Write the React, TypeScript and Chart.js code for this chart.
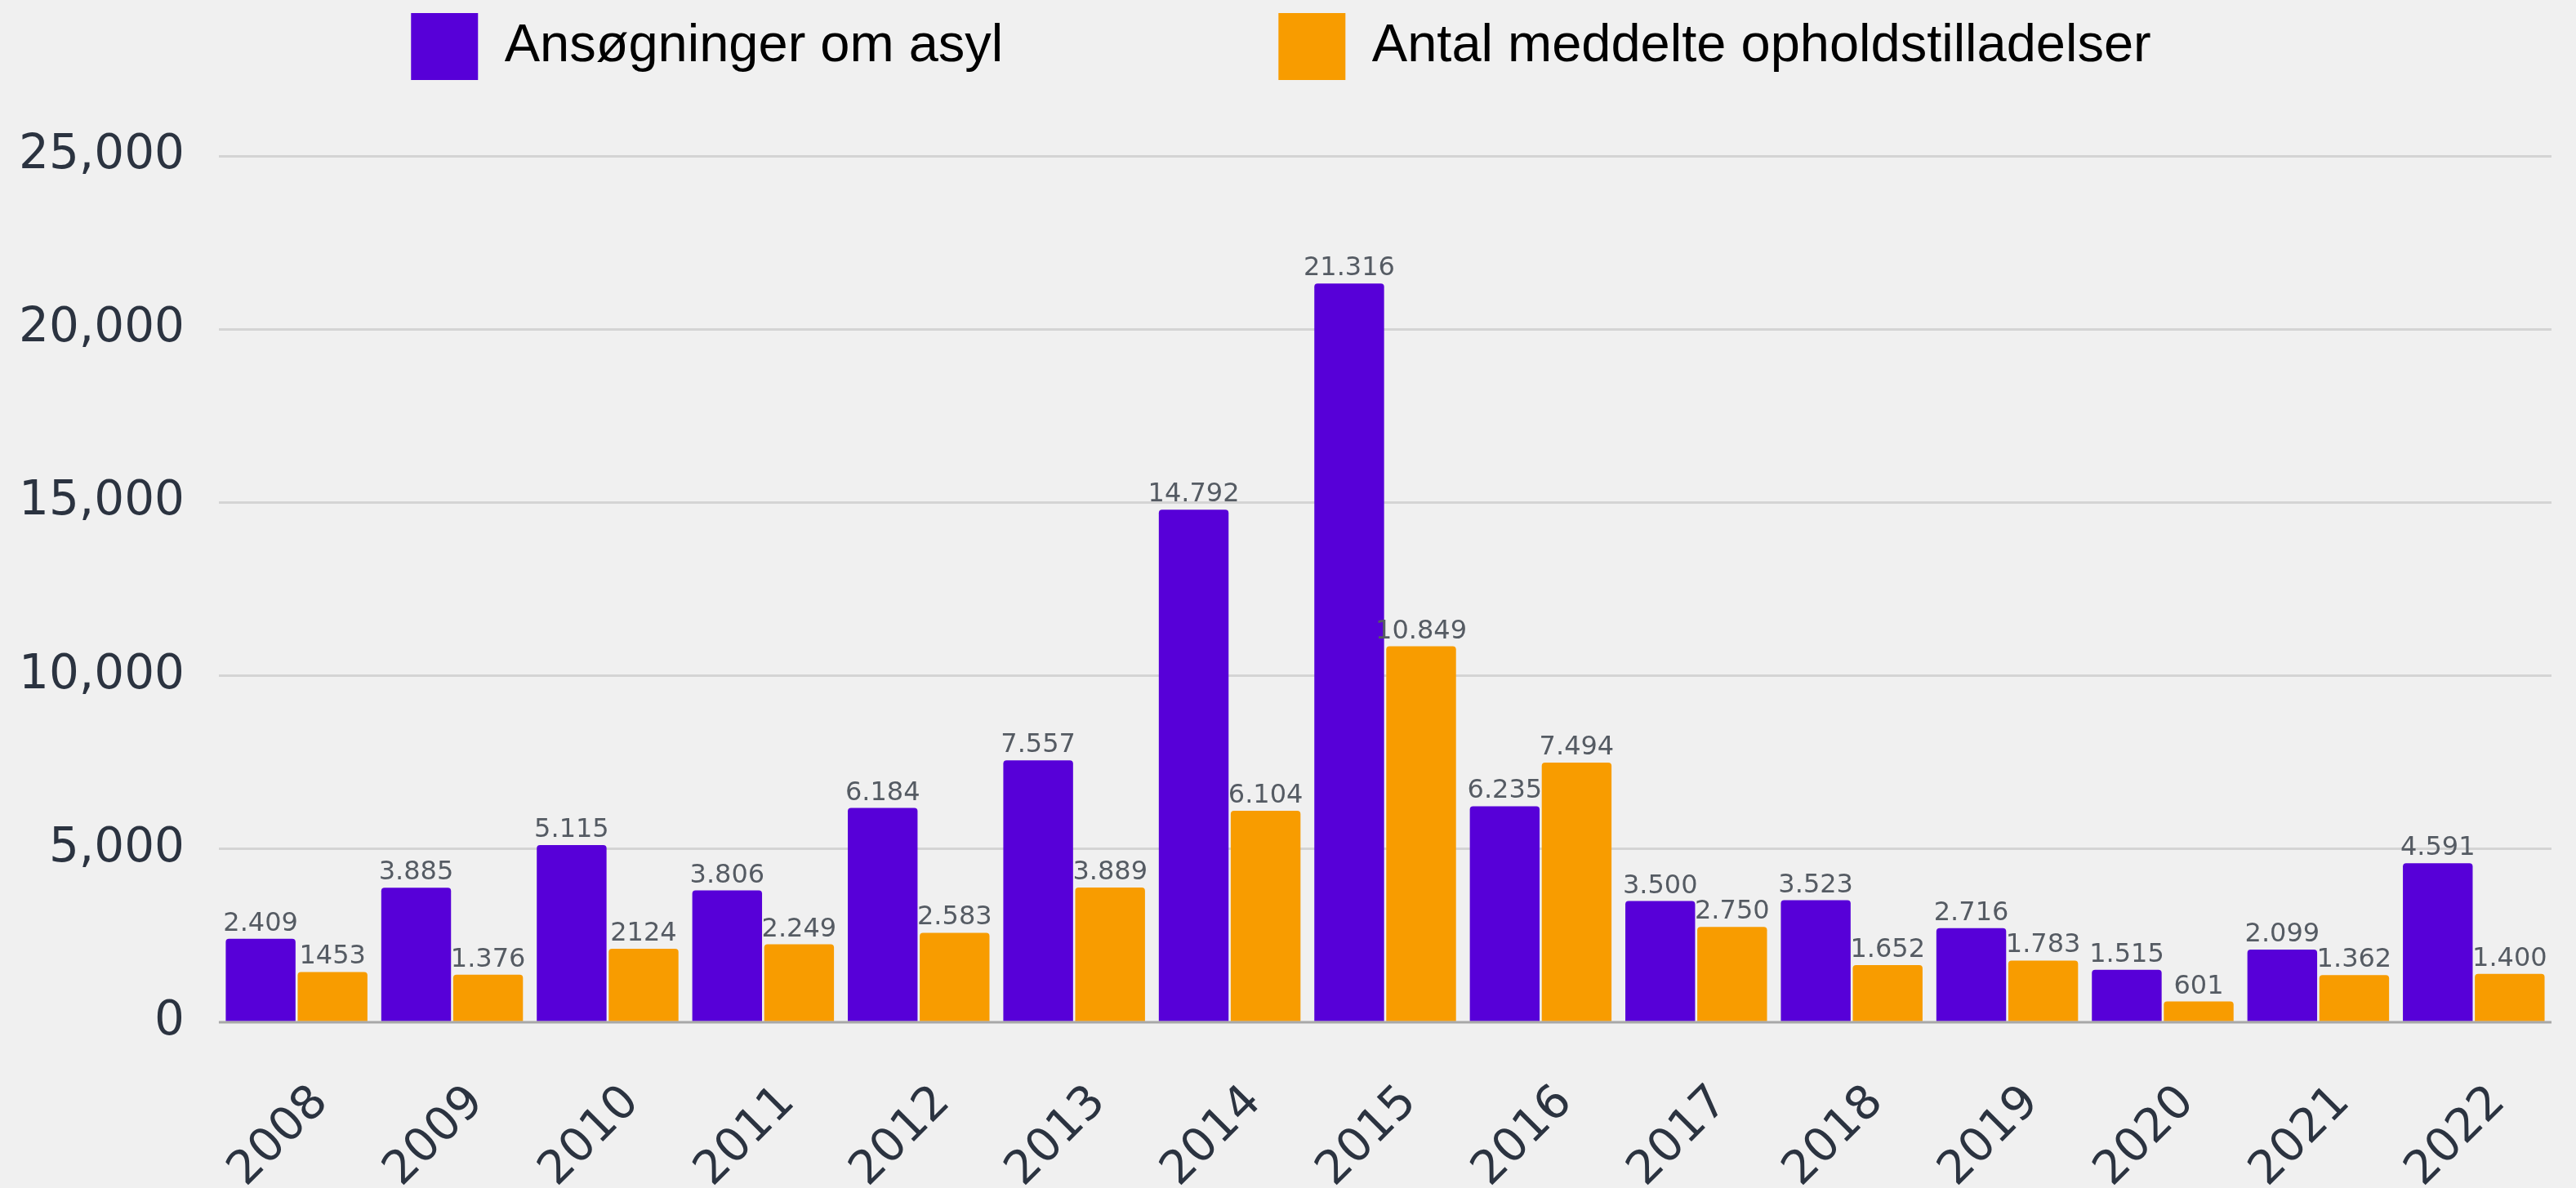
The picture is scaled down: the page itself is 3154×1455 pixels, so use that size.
import React, { useEffect, useRef } from "react";
import { Chart, registerables } from "chart.js";

Chart.register(...registerables);

const years = ["2008", "2009", "2010", "2011", "2012", "2013", "2014", "2015", "2016", "2017", "2018", "2019", "2020", "2021", "2022"];
const seriesNames = ["Ansøgninger om asyl", "Antal meddelte opholdstilladelser"];
const asylumApplications = [2409, 3885, 5115, 3806, 6184, 7557, 14792, 21316, 6235, 3500, 3523, 2716, 1515, 2099, 4591];
const asylumLabels = ["2.409", "3.885", "5.115", "3.806", "6.184", "7.557", "14.792", "21.316", "6.235", "3.500", "3.523", "2.716", "1.515", "2.099", "4.591"];
const permitsGranted = [1453, 1376, 2124, 2249, 2583, 3889, 6104, 10849, 7494, 2750, 1652, 1783, 601, 1362, 1400];
const permitLabels = ["1453", "1.376", "2124", "2.249", "2.583", "3.889", "6.104", "10.849", "7.494", "2.750", "1.652", "1.783", "601", "1.362", "1.400"];
const yTicks = [0, 5000, 10000, 15000, 20000, 25000];

const PURPLE = "#5700d8";
const ORANGE = "#f89c00";
const BG = "#f0f0f0";
const LEGEND_PAD = 337;

const backgroundPlugin = {
  id: "bgFill",
  beforeDraw(chart: any) {
    const { ctx, width, height } = chart;
    ctx.save();
    ctx.fillStyle = BG;
    ctx.fillRect(0, 0, width, height);
    ctx.restore();
  },
};

// Moves the legend row to the top edge and nudges it horizontally.
const legendPlacePlugin = {
  id: "legendPlace",
  afterLayout(chart: any) {
    const lg = chart.legend;
    if (!lg) return;
    const rowTop = lg.top + LEGEND_PAD;
    const dy = rowTop - 16;
    lg.top -= dy;
    lg.bottom -= dy;
    lg.left += 16;
    lg.right += 16;
  },
};

const valueLabelPlugin = {
  id: "valueLabels",
  afterDatasetsDraw(chart: any) {
    const { ctx, chartArea } = chart;
    const yScale = chart.scales.y;
    const y0 = yScale.getPixelForValue(0);
    ctx.save();
    ctx.strokeStyle = "rgba(120,120,120,0.6)";
    ctx.lineWidth = 3;
    ctx.beginPath();
    ctx.moveTo(chartArea.left, y0);
    ctx.lineTo(chartArea.right, y0);
    ctx.stroke();

    const labelSets = [asylumLabels, permitLabels];
    ctx.font = "32px 'DejaVu Sans'";
    ctx.fillStyle = "#555b63";
    ctx.textAlign = "center";
    ctx.textBaseline = "alphabetic";
    chart.data.datasets.forEach((_ds: any, i: number) => {
      const meta = chart.getDatasetMeta(i);
      meta.data.forEach((bar: any, j: number) => {
        const { x, y } = bar.getProps(["x", "y"], true);
        ctx.fillText(labelSets[i][j], x, y - 10);
      });
    });
    ctx.restore();
  },
};

export default function App() {
  const canvasRef = useRef<HTMLCanvasElement | null>(null);

  useEffect(() => {
    document.body.style.margin = "0";
    document.body.style.background = BG;
    const canvas = canvasRef.current;
    if (!canvas) return;
    const chart = new Chart(canvas, {
      type: "bar",
      data: {
        labels: years,
        datasets: [
          {
            label: seriesNames[0],
            data: asylumApplications,
            backgroundColor: PURPLE,
            borderColor: PURPLE,
            borderWidth: 0,
            borderRadius: 4,
            borderSkipped: "bottom",
            barPercentage: 0.97,
            categoryPercentage: 0.925,
          },
          {
            label: seriesNames[1],
            data: permitsGranted,
            backgroundColor: ORANGE,
            borderColor: ORANGE,
            borderWidth: 0,
            borderRadius: 4,
            borderSkipped: "bottom",
            barPercentage: 0.97,
            categoryPercentage: 0.925,
          },
        ],
      },
      options: {
        responsive: false,
        animation: false,
        devicePixelRatio: 1,
        layout: { padding: { top: -238, left: -19, right: 30, bottom: -70 } },
        plugins: {
          legend: {
            position: "top",
            labels: {
              boxWidth: 82,
              boxHeight: 82,
              padding: LEGEND_PAD,
              color: "#000000",
              font: { family: "'Liberation Sans'", size: 65 },
            },
          },
          tooltip: { enabled: false },
        },
        scales: {
          x: {
            offset: true,
            grid: { display: false },
            border: { display: false },
            ticks: {
              color: "#2b3340",
              font: { family: "'DejaVu Sans'", size: 57 },
              minRotation: 45,
              maxRotation: 45,
              padding: 57,
              labelOffset: 30,
              autoSkip: false,
            },
          },
          y: {
            min: 0,
            max: 25000,
            border: { display: false },
            grid: {
              color: (c: any) => (c.tick && c.tick.value === 0 ? "rgba(0,0,0,0)" : "#d4d4d4"),
              lineWidth: 3,
              drawTicks: false,
            },
            ticks: {
              color: "#2b3340",
              font: { family: "'DejaVu Sans'", size: 58 },
              padding: 42,
              callback: (v: any) => Number(v).toLocaleString("en-US"),
            },
            afterBuildTicks: (s: any) => {
              s.ticks = yTicks.map((v) => ({ value: v }));
            },
          },
        },
      },
      plugins: [backgroundPlugin, legendPlacePlugin, valueLabelPlugin],
    });
    return () => chart.destroy();
  }, []);

  return (
    <div style={{ width: 3154, height: 1455, background: BG }}>
      <canvas ref={canvasRef} width={3154} height={1455} style={{ display: "block" }} />
    </div>
  );
}
